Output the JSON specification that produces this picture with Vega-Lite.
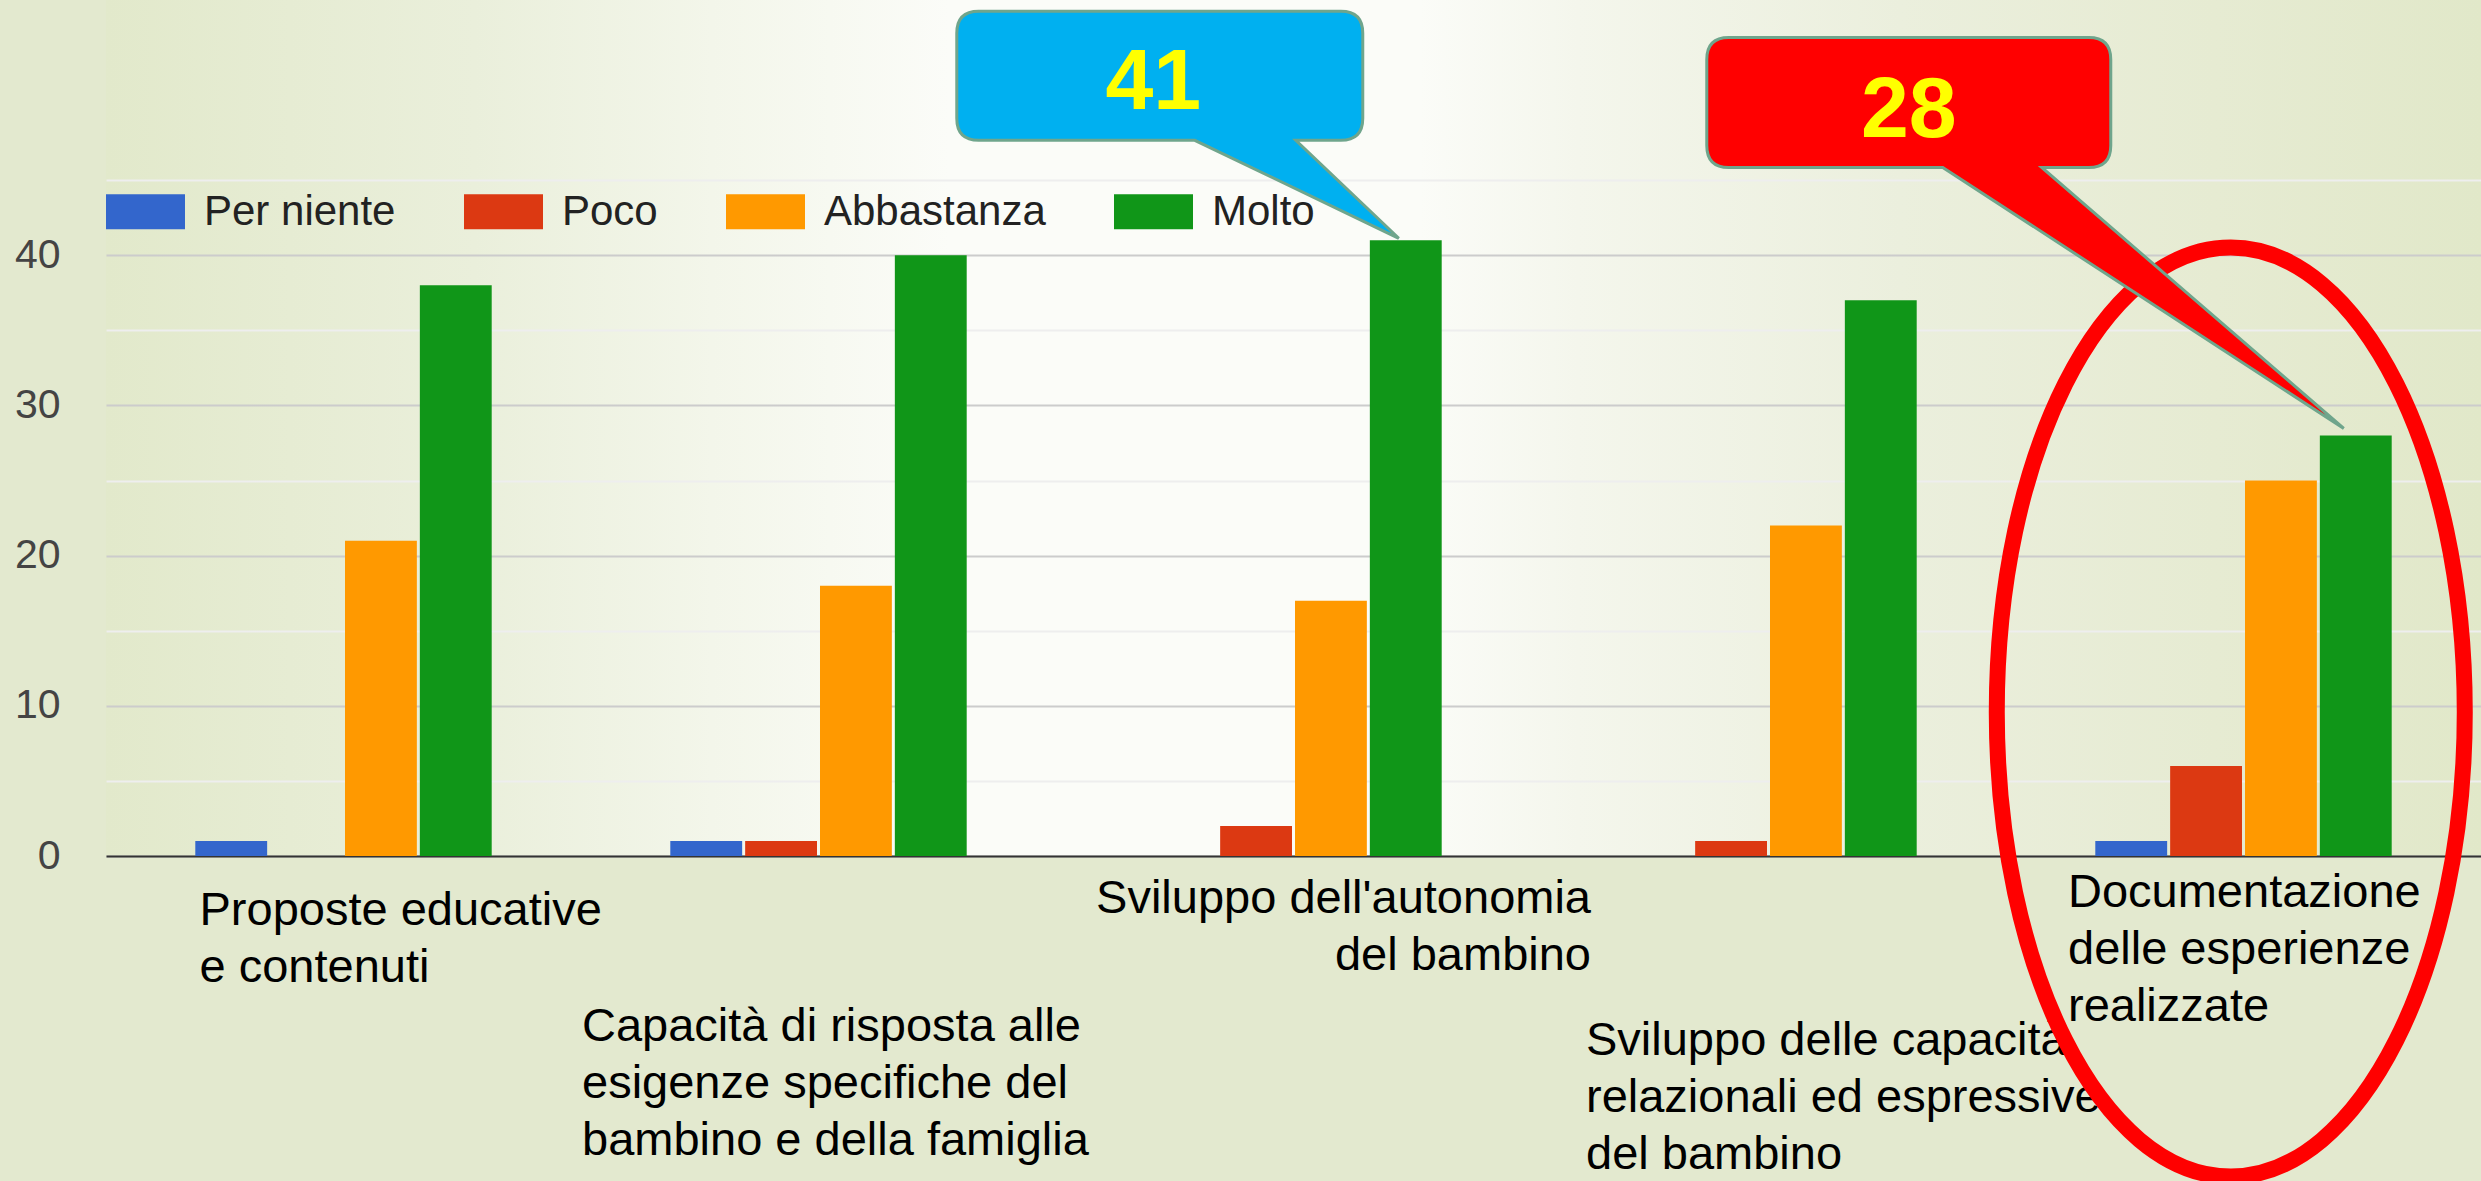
{
  "$schema": "https://vega.github.io/schema/vega-lite/v6.json",
  "width": 2375,
  "height": 856,
  "autosize": "none",
  "padding": {"left": 106, "top": 0, "right": 0, "bottom": 325},
  "background": "#e3e9cf",
  "view": {
    "stroke": null,
    "fill": {
      "gradient": "linear", "x1": 0, "y1": 0, "x2": 1, "y2": 0,
      "stops": [
        {"offset": 0, "color": "#e2e9cb"},
        {"offset": 0.155, "color": "#eaefdb"},
        {"offset": 0.255, "color": "#f3f6ea"},
        {"offset": 0.355, "color": "#fbfcf8"},
        {"offset": 0.553, "color": "#fbfcf8"},
        {"offset": 0.62, "color": "#f4f6ec"},
        {"offset": 0.755, "color": "#ebefdd"},
        {"offset": 0.888, "color": "#e6ebd2"},
        {"offset": 1, "color": "#e1e8c9"}
      ]
    }
  },
  "config": {"font": "Liberation Sans", "text": {"font": "Liberation Sans"}},
  "datasets": {
    "survey": [
      {"category": "Proposte educative e contenuti", "series": "Per niente", "value": 1},
      {"category": "Proposte educative e contenuti", "series": "Poco", "value": 0},
      {"category": "Proposte educative e contenuti", "series": "Abbastanza", "value": 21},
      {"category": "Proposte educative e contenuti", "series": "Molto", "value": 38},
      {"category": "Capacità di risposta alle esigenze specifiche del bambino e della famiglia", "series": "Per niente", "value": 1},
      {"category": "Capacità di risposta alle esigenze specifiche del bambino e della famiglia", "series": "Poco", "value": 1},
      {"category": "Capacità di risposta alle esigenze specifiche del bambino e della famiglia", "series": "Abbastanza", "value": 18},
      {"category": "Capacità di risposta alle esigenze specifiche del bambino e della famiglia", "series": "Molto", "value": 40},
      {"category": "Sviluppo dell'autonomia del bambino", "series": "Per niente", "value": 0},
      {"category": "Sviluppo dell'autonomia del bambino", "series": "Poco", "value": 2},
      {"category": "Sviluppo dell'autonomia del bambino", "series": "Abbastanza", "value": 17},
      {"category": "Sviluppo dell'autonomia del bambino", "series": "Molto", "value": 41},
      {"category": "Sviluppo delle capacità relazionali ed espressive del bambino", "series": "Per niente", "value": 0},
      {"category": "Sviluppo delle capacità relazionali ed espressive del bambino", "series": "Poco", "value": 1},
      {"category": "Sviluppo delle capacità relazionali ed espressive del bambino", "series": "Abbastanza", "value": 22},
      {"category": "Sviluppo delle capacità relazionali ed espressive del bambino", "series": "Molto", "value": 37},
      {"category": "Documentazione delle esperienze realizzate", "series": "Per niente", "value": 1},
      {"category": "Documentazione delle esperienze realizzate", "series": "Poco", "value": 6},
      {"category": "Documentazione delle esperienze realizzate", "series": "Abbastanza", "value": 25},
      {"category": "Documentazione delle esperienze realizzate", "series": "Molto", "value": 28}
    ],
    "labels": [
      {"category": "Proposte educative e contenuti", "text": ["Proposte educative", "e contenuti"]},
      {"category": "Capacità di risposta alle esigenze specifiche del bambino e della famiglia", "text": ["Capacità di risposta alle", "esigenze specifiche del", "bambino e della famiglia"]},
      {"category": "Sviluppo dell'autonomia del bambino", "text": ["Sviluppo dell'autonomia", "del bambino"]},
      {"category": "Sviluppo delle capacità relazionali ed espressive del bambino", "text": ["Sviluppo delle capacità", "relazionali ed espressive", "del bambino"]},
      {"category": "Documentazione delle esperienze realizzate", "text": ["Documentazione", "delle esperienze", "realizzate"]}
    ]
  },
  "layer": [
    {
      "data": {"name": "survey"},
      "mark": {"type": "bar"},
      "encoding": {
        "x": {
          "field": "category", "type": "nominal",
          "scale": {
            "domain": ["Proposte educative e contenuti", "Capacità di risposta alle esigenze specifiche del bambino e della famiglia", "Sviluppo dell'autonomia del bambino", "Sviluppo delle capacità relazionali ed espressive del bambino", "Documentazione delle esperienze realizzate"],
            "paddingInner": 0.376, "paddingOuter": 0.188
          },
          "axis": {"title": null, "labels": false, "ticks": false, "grid": false, "domain": true, "domainColor": "#333333", "domainWidth": 2}
        },
        "xOffset": {
          "field": "series", "type": "nominal",
          "scale": {"domain": ["Per niente", "Poco", "Abbastanza", "Molto"], "paddingInner": 0.04, "paddingOuter": 0}
        },
        "y": {
          "field": "value", "type": "quantitative",
          "scale": {"domain": [0, 57], "nice": false, "zero": true},
          "axis": {
            "title": null, "domain": false, "ticks": false,
            "values": [0, 5, 10, 15, 20, 25, 30, 35, 40, 45],
            "labelExpr": "datum.value % 10 === 0 ? datum.label : ''",
            "labelFontSize": 41, "labelColor": "#444444", "labelPadding": 46,
            "labelFont": "Liberation Sans",
            "gridColor": {"condition": {"test": "datum.value % 10 === 0", "value": "#cccccc"}, "value": "#eeeeee"},
            "gridWidth": 2
          }
        },
        "color": {
          "field": "series", "type": "nominal",
          "scale": {"domain": ["Per niente", "Poco", "Abbastanza", "Molto"], "range": ["#3366cc", "#dc3912", "#ff9900", "#109618"]},
          "legend": {
            "orient": "none", "legendX": 0, "legendY": 172, "direction": "horizontal",
            "title": null, "symbolType": "M-1,-0.44H1V0.44H-1Z", "symbolSize": 6241,
            "symbolStrokeWidth": 0, "symbolOpacity": 1,
            "labelFontSize": 42, "labelColor": "#222222", "labelFont": "Liberation Sans",
            "labelLimit": 0,
            "columnPadding": 68, "labelOffset": 19, "padding": 0
          }
        }
      }
    },
    {
      "data": {"name": "labels"},
      "transform": [{"filter": {"field": "category", "equal": "Proposte educative e contenuti"}}],
      "mark": {"type": "text", "align": "left", "baseline": "alphabetic", "dx": -144, "dy": 69, "fontSize": 47, "lineHeight": 57, "color": "#000000"},
      "encoding": {"x": {"field": "category", "type": "nominal"}, "y": {"datum": 0, "type": "quantitative"}, "text": {"field": "text"}}
    },
    {
      "data": {"name": "labels"},
      "transform": [{"filter": {"field": "category", "equal": "Capacità di risposta alle esigenze specifiche del bambino e della famiglia"}}],
      "mark": {"type": "text", "align": "left", "baseline": "alphabetic", "dx": -236.5, "dy": 185, "fontSize": 47, "lineHeight": 57, "color": "#000000"},
      "encoding": {"x": {"field": "category", "type": "nominal"}, "y": {"datum": 0, "type": "quantitative"}, "text": {"field": "text"}}
    },
    {
      "data": {"name": "labels"},
      "transform": [{"filter": {"field": "category", "equal": "Sviluppo dell'autonomia del bambino"}}],
      "mark": {"type": "text", "align": "right", "baseline": "alphabetic", "dx": 297.5, "dy": 57, "fontSize": 47, "lineHeight": 57, "color": "#000000"},
      "encoding": {"x": {"field": "category", "type": "nominal"}, "y": {"datum": 0, "type": "quantitative"}, "text": {"field": "text"}}
    },
    {
      "data": {"name": "labels"},
      "transform": [{"filter": {"field": "category", "equal": "Sviluppo delle capacità relazionali ed espressive del bambino"}}],
      "mark": {"type": "text", "align": "left", "baseline": "alphabetic", "dx": -182.5, "dy": 199, "fontSize": 47, "lineHeight": 57, "color": "#000000"},
      "encoding": {"x": {"field": "category", "type": "nominal"}, "y": {"datum": 0, "type": "quantitative"}, "text": {"field": "text"}}
    },
    {
      "data": {"name": "labels"},
      "transform": [{"filter": {"field": "category", "equal": "Documentazione delle esperienze realizzate"}}],
      "mark": {"type": "text", "align": "left", "baseline": "alphabetic", "dx": -175.5, "dy": 51, "fontSize": 47, "lineHeight": 57, "color": "#000000"},
      "encoding": {"x": {"field": "category", "type": "nominal"}, "y": {"datum": 0, "type": "quantitative"}, "text": {"field": "text"}}
    },
    {
      "data": {"name": "survey"},
      "transform": [{"filter": {"and": [{"field": "category", "equal": "Documentazione delle esperienze realizzate"}, {"field": "series", "equal": "Molto"}]}}],
      "mark": {"type": "point", "shape": "M-359,276.5A234,464.5,0,1,0,109,276.5A234,464.5,0,1,0,-359,276.5Z", "size": 4, "filled": false, "stroke": "#ff0000", "strokeWidth": 16, "opacity": 1},
      "encoding": {"x": {"field": "category", "type": "nominal"}, "xOffset": {"field": "series", "type": "nominal"}, "y": {"field": "value", "type": "quantitative"}}
    },
    {
      "data": {"name": "survey"},
      "transform": [{"filter": {"and": [{"field": "category", "equal": "Sviluppo dell'autonomia del bambino"}, {"field": "series", "equal": "Molto"}]}}],
      "mark": {"type": "point", "shape": "M-427,-229L-65,-229Q-43,-229,-43,-207L-43,-122Q-43,-100,-65,-100L-110,-100L-7,-2L-211,-100L-427,-100Q-449,-100,-449,-122L-449,-207Q-449,-229,-427,-229Z", "size": 4, "filled": true, "fill": "#00b0f0", "stroke": "#6fa58c", "strokeWidth": 3, "opacity": 1},
      "encoding": {"x": {"field": "category", "type": "nominal"}, "xOffset": {"field": "series", "type": "nominal"}, "y": {"field": "value", "type": "quantitative"}}
    },
    {
      "data": {"name": "survey"},
      "transform": [{"filter": {"and": [{"field": "category", "equal": "Sviluppo dell'autonomia del bambino"}, {"field": "series", "equal": "Molto"}]}}],
      "mark": {"type": "text", "align": "center", "baseline": "alphabetic", "dx": -252.5, "dy": -131, "fontSize": 86, "fontWeight": "bold", "color": "#ffff00"},
      "encoding": {"x": {"field": "category", "type": "nominal"}, "xOffset": {"field": "series", "type": "nominal"}, "y": {"field": "value", "type": "quantitative"}, "text": {"field": "value"}}
    },
    {
      "data": {"name": "survey"},
      "transform": [{"filter": {"and": [{"field": "category", "equal": "Documentazione delle esperienze realizzate"}, {"field": "series", "equal": "Molto"}]}}],
      "mark": {"type": "point", "shape": "M-627,-398L-267,-398Q-245,-398,-245,-376L-245,-290Q-245,-268,-267,-268L-314,-268L-12,-7L-413,-268L-627,-268Q-649,-268,-649,-290L-649,-376Q-649,-398,-627,-398Z", "size": 4, "filled": true, "fill": "#ff0000", "stroke": "#6fa58c", "strokeWidth": 3, "opacity": 1},
      "encoding": {"x": {"field": "category", "type": "nominal"}, "xOffset": {"field": "series", "type": "nominal"}, "y": {"field": "value", "type": "quantitative"}}
    },
    {
      "data": {"name": "survey"},
      "transform": [{"filter": {"and": [{"field": "category", "equal": "Documentazione delle esperienze realizzate"}, {"field": "series", "equal": "Molto"}]}}],
      "mark": {"type": "text", "align": "center", "baseline": "alphabetic", "dx": -447, "dy": -299, "fontSize": 86, "fontWeight": "bold", "color": "#ffff00"},
      "encoding": {"x": {"field": "category", "type": "nominal"}, "xOffset": {"field": "series", "type": "nominal"}, "y": {"field": "value", "type": "quantitative"}, "text": {"field": "value"}}
    }
  ]
}
